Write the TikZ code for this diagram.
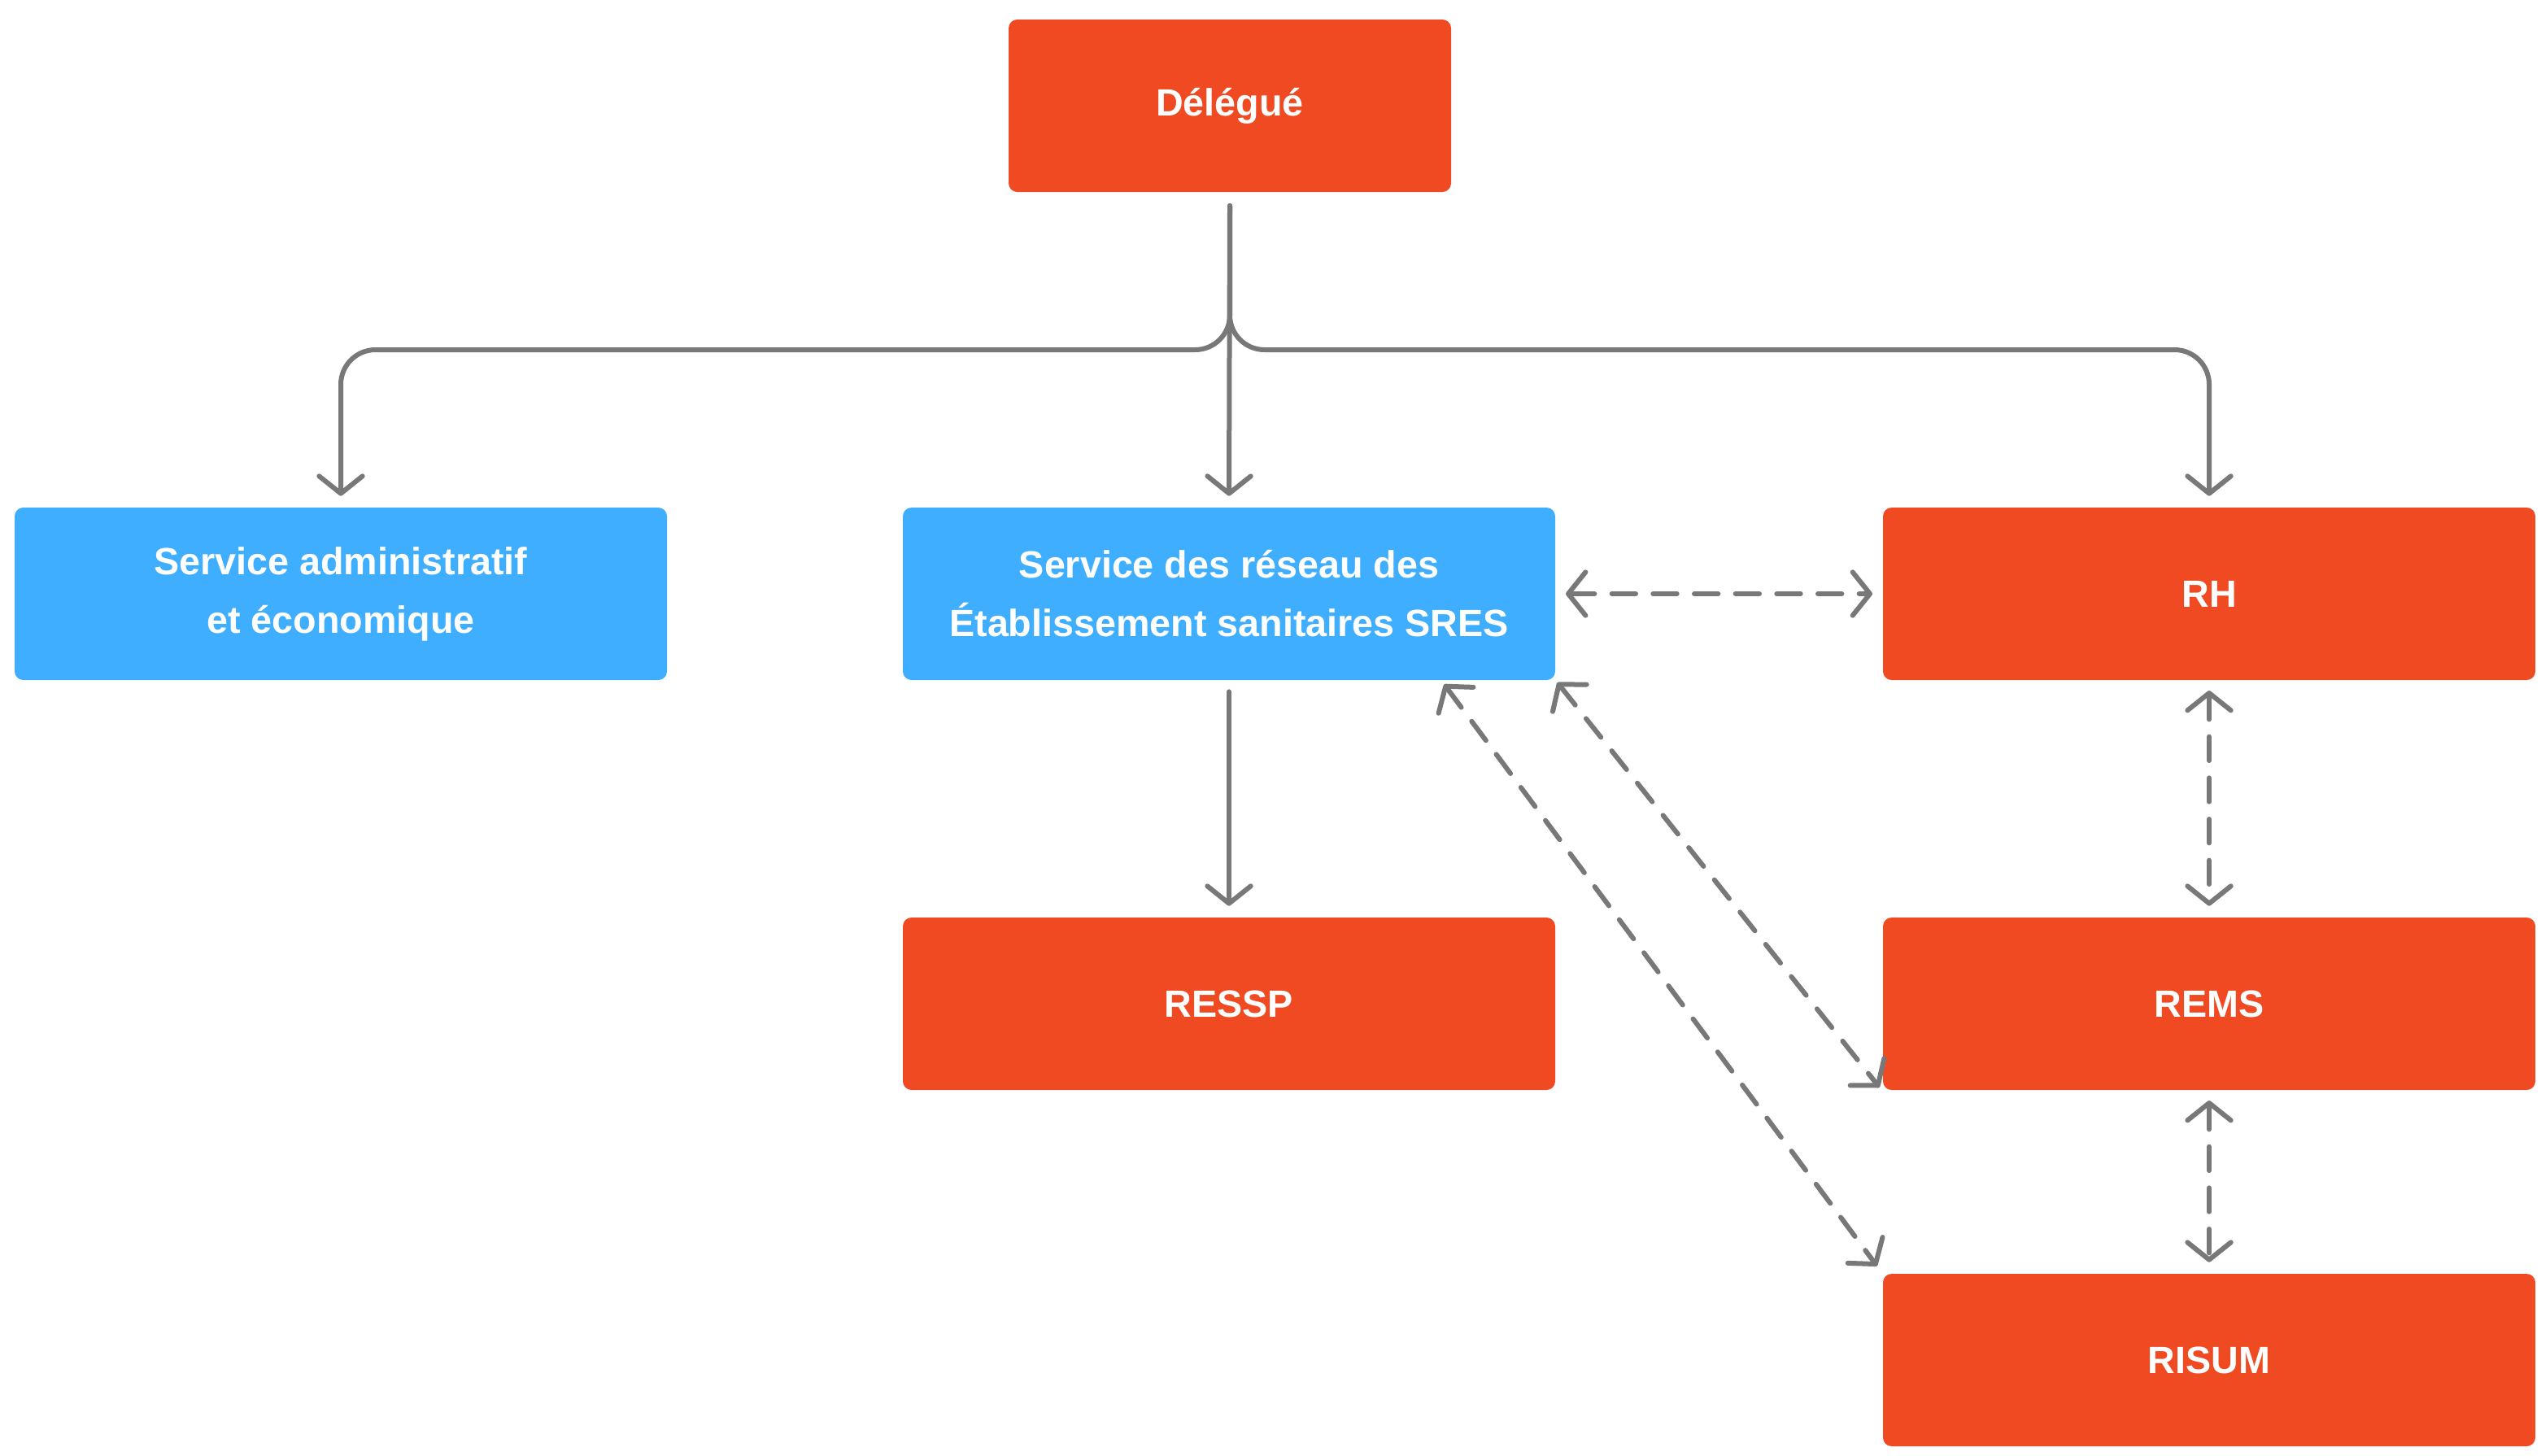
\documentclass[tikz,border=0pt]{standalone}
\usepackage{fontspec}
\setmainfont{Liberation Sans}
\usetikzlibrary{arrows.meta,calc}

\definecolor{boxred}{RGB}{240,74,35}
\definecolor{boxblue}{RGB}{63,174,255}
\definecolor{linkgray}{RGB}{120,120,120}

\tikzset{every picture/.style={line width=0.75pt}}

\begin{document}
\begin{tikzpicture}[x=0.75pt,y=0.75pt,yscale=-1,xscale=1,
  >={Straight Barb[length=8pt,width=20pt,line cap=round,line join=round]},
  redbox/.style={fill=boxred, rounded corners=4pt, minimum width=300.75pt, minimum height=79.5pt, inner sep=0pt, align=center, text=white, font=\fontsize{17.5}{27}\selectfont\bfseries},
  bluebox/.style={redbox, fill=boxblue},
  link/.style={draw=linkgray, line width=2.25pt, line cap=round, ->},
  duallink/.style={link, <->, dash pattern={on 11pt off 8pt}}]
%set diagram size
\path (0,0) rectangle (1562,894.5);

% Boxes
\node [redbox, minimum width=204pt] (dlg) at (756,65) {Délégué};
\node [bluebox] (sae) at (209.5,365) {Service administratif\\et économique};
\node [bluebox] (sres) at (755.5,365) {Service des réseau des\\Établissement sanitaires SRES};
\node [redbox] (rh) at (1358,365) {RH};
\node [redbox] (ressp) at (755.5,617) {RESSP};
\node [redbox] (rems) at (1358,617) {REMS};
\node [redbox] (risum) at (1358,836) {RISUM};

%branch level
\coordinate (split) at (756,215);

%Straight Lines
\draw [link] ([yshift=6pt]dlg.south) -- ([yshift=-5pt]sres.north);
\draw [link, rounded corners=16pt] ([yshift=6pt]dlg.south) -- (split) -- (sae.north |- split) -- ([yshift=-5pt]sae.north);
\draw [link, rounded corners=16pt] ([yshift=6pt]dlg.south) -- (split) -- (rh.north |- split) -- ([yshift=-5pt]rh.north);
\draw [link] ([yshift=5pt]sres.south) -- ([yshift=-5pt]ressp.north);

%Dashed Lines
\draw [duallink, shorten <=4.5pt, shorten >=4.5pt] (sres.east) -- (rh.west);
\draw [duallink, shorten <=4.5pt, shorten >=5pt] (rh.south) -- (rems.north);
\draw [duallink, shorten <=4.5pt, shorten >=5pt] (rems.south) -- (risum.north);
\draw [duallink, shorten <=1pt, shorten >=2pt] (sres.south east) -- (rems.south west);
\draw [duallink, shorten <=2pt, shorten >=4pt] ($(sres.south)!0.65!(sres.south east)$) -- (risum.north west);

\end{tikzpicture}
\end{document}
